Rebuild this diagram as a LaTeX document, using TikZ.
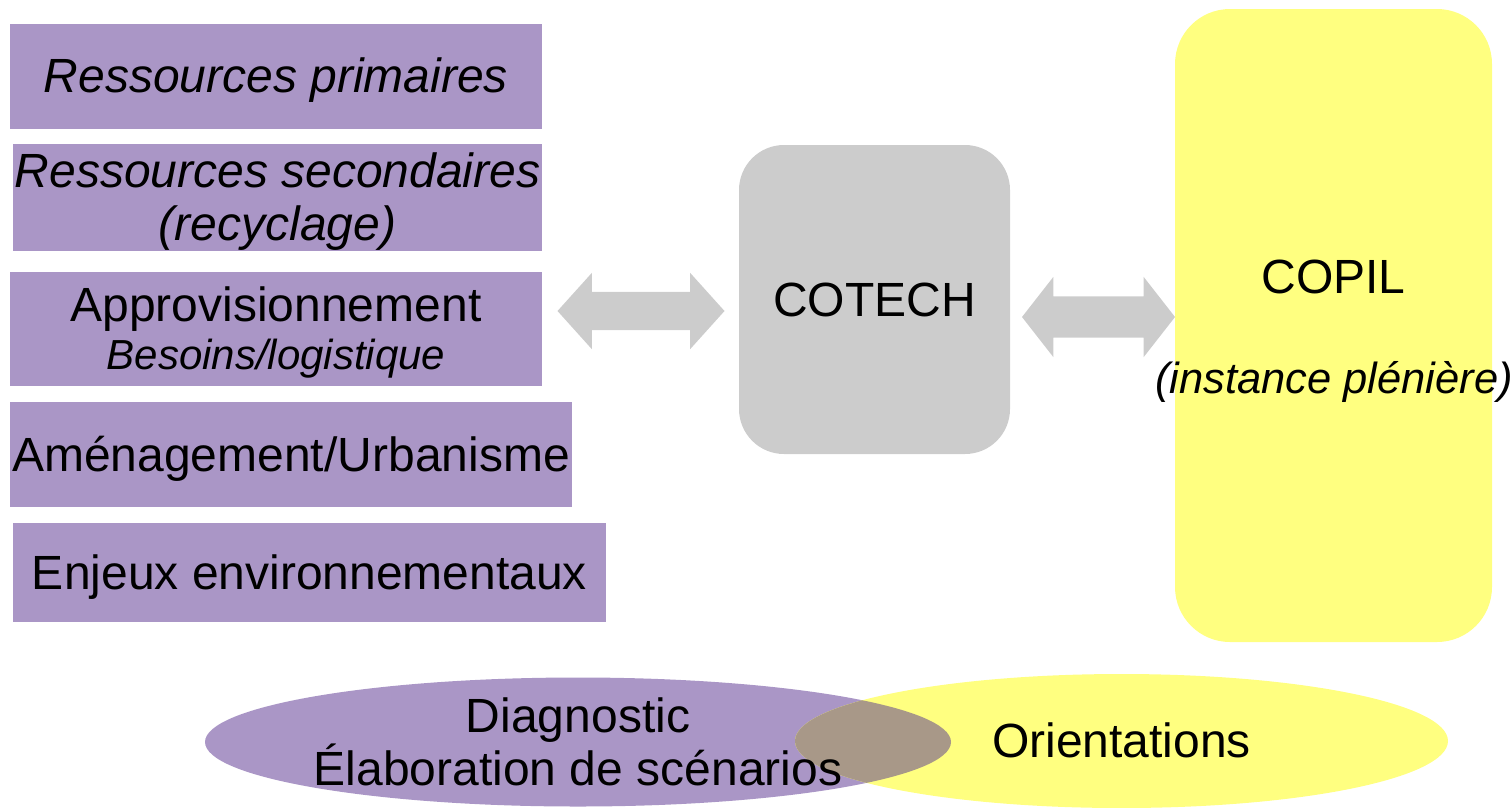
\documentclass[tikz,border=0pt]{standalone}
\usepackage{fontspec}
\setmainfont{Liberation Sans}
\usetikzlibrary{positioning, shapes.geometric, shapes.arrows}
\definecolor{mauve}{RGB}{170,150,198}
\definecolor{jaune}{RGB}{255,255,128}
\definecolor{gris}{RGB}{204,204,204}
\definecolor{brun}{RGB}{168,152,136}
\newcommand{\haut}{\rule{0pt}{43.4pt}}
\newcommand{\bas}{\rule[-10.2pt]{0pt}{0pt}}
\tikzset{
    texte/.style={font=\fontsize{48}{53}\selectfont, align=center, inner sep=0pt},
    ligne/.style={texte, text height=43.4pt, text depth=10.2pt},
    boite/.style={fill=mauve},
    bloc/.style={rounded corners=#1},
    fleche/.style={double arrow, fill=gris, inner xsep=0pt}
}

\begin{document}
\begin{tikzpicture}[x=1pt, y=-1pt]
    \useasboundingbox (0,0) rectangle (1512,807);

    % groupes de travail
    \node[boite, ligne, minimum width=532pt, minimum height=105pt] (prim) at (276,76)
        {\itshape Ressources primaires};
    \node[boite, texte, minimum width=529pt, minimum height=105pt] (sec) at (277.5,197.5)
        {\itshape\haut Ressources secondaires\\\itshape (recyclage)\bas};
    \node[boite, texte, minimum width=532pt, minimum height=114pt] (appro) at (276,329)
        {\haut Approvisionnement\\[-5pt]{\fontsize{42}{46}\selectfont\itshape Besoins/logistique}\bas};
    \node[boite, ligne, minimum width=562pt, minimum height=105pt] (amen) at (291,454.5)
        {Aménagement/Urbanisme};
    \node[boite, ligne, minimum width=593pt, minimum height=99pt] (enj) at (309.5,572.5)
        {Enjeux environnementaux};

    % comites
    \node[bloc=45pt, ligne, fill=gris, minimum width=271pt, minimum height=309pt] (cotech) at (874.5,299.5)
        {COTECH};
    \node[bloc=55pt, fill=jaune, minimum width=317pt, minimum height=633pt] (copil) at (1333.5,325.5) {};
    \node[ligne] (copilnom) at (1333.5,277) {COPIL};
    \node[ligne, font=\fontsize{43.5}{48}\selectfont\itshape, text height=39.4pt, text depth=9.2pt]
        (copilsous) at (1334,378) {(instance plénière)};

    % fleches
    \node[fleche, inner ysep=19pt, double arrow head extend=19pt, double arrow tip angle=96,
        minimum height=167pt] (f1) at (641,311) {};
    \node[fleche, inner ysep=20.5pt, double arrow head extend=19.5pt, double arrow tip angle=104,
        minimum height=153pt] (f2) at (1098.5,317) {};

    % phases
    \node[ellipse, fill=mauve, minimum width=746pt, minimum height=129pt] (diag) at (578,742) {};
    \node[ellipse, fill=jaune, minimum width=653pt, minimum height=134pt] (orient) at (1121.5,741) {};
    \begin{scope}
        \clip (578,742) ellipse [x radius=373, y radius=64.5];
        \fill[brun] (1121.5,741) ellipse [x radius=326.5, y radius=67];
    \end{scope}
    \node[texte] (diagtxt) at (diag.center) {\haut Diagnostic\\Élaboration de scénarios\bas};
    \node[ligne] (orienttxt) at (orient.center) {Orientations};
\end{tikzpicture}
\end{document}
